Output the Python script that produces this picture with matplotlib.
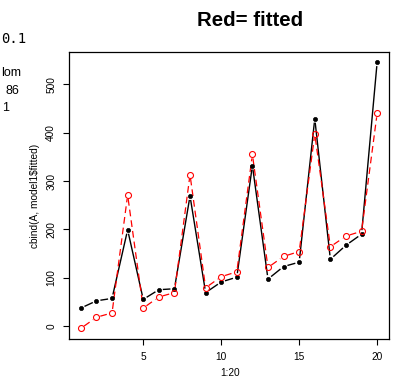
import numpy as np
import matplotlib
matplotlib.use("Agg")
import matplotlib.pyplot as plt

# ---- data ----
x = np.arange(1, 21)
actual = [37, 52, 57, 199, 55, 75, 77, 269, 69, 91, 101, 332, 97, 123, 132, 429, 138, 167, 190, 546]
fitted = [-5, 18, 27, 271, 37, 60, 69, 313, 79, 102, 112, 355, 121, 144, 154, 397, 164, 186, 196, 440]
xticks = [5, 10, 15, 20]
yticks = [0, 100, 200, 300, 400, 500]
title = "Red= fitted"
xlabel = "1:20"
ylabel = "cbind(A, model1$fitted)"

W, H = 394, 383
fig = plt.figure(figsize=(W / 100, H / 100), dpi=100)
fig.patch.set_facecolor("white")
ax = fig.add_axes([69 / W, 1 - 339 / H, 320 / W, (339 - 52) / H])

ax.set_xlim(0.24, 20.76)
ax.set_ylim(-27, 567)
ax.set_xticks(xticks)
ax.set_yticks(yticks)

font = "Liberation Sans"
ax.tick_params(axis="both", direction="out", length=4.2, width=0.8, color="black",
               labelsize=7.3, pad=5)
ax.tick_params(axis="x", pad=5.5)
for lab in ax.get_xticklabels() + ax.get_yticklabels():
    lab.set_fontfamily(font)
plt.setp(ax.get_yticklabels(), rotation=90, va="center")
for s in ax.spines.values():
    s.set_linewidth(0.9)
    s.set_color("black")


def gapped(ax, xs, ys, gap_px, **kw):
    pts = ax.transData.transform(np.column_stack([xs, ys]))
    inv = ax.transData.inverted()
    for p0, p1 in zip(pts[:-1], pts[1:]):
        d = p1 - p0
        L = np.hypot(*d)
        if L <= 2 * gap_px:
            continue
        u = d / L
        a = p0 + u * gap_px
        b = p1 - u * gap_px
        seg = inv.transform(np.array([a, b]))
        ax.plot(seg[:, 0], seg[:, 1], **kw)


gapped(ax, x, actual, 4.0, color="black", lw=1.0, solid_capstyle="butt")
gapped(ax, x, fitted, 4.0, color="red", lw=0.9, linestyle=(0, (5.4, 3.2)), dash_capstyle="butt")
ax.plot(x, actual, linestyle="none", marker="o", ms=3.0, mfc="black", mec="black", mew=0.5)
ax.plot(x, fitted, linestyle="none", marker="o", ms=4.3, mfc="none", mec="red", mew=0.8)

fig.text(250 / W, 1 - 20 / H, title, ha="center", va="center", fontsize=14.7,
         fontweight="bold", family=font)
fig.text(230 / W, 1 - 373 / H, xlabel, ha="center", va="center", fontsize=7.3, family=font)
fig.text(35 / W, 1 - 195.5 / H, ylabel, ha="center", va="center", fontsize=7.3,
         rotation=90, family=font)

# console fragments at left edge
fig.text(1 / W, 1 - 39 / H, "0.1", ha="left", va="center", fontsize=10,
         family="DejaVu Sans Mono")
fig.text(1 / W, 1 - 73 / H, "lom", ha="left", va="center", fontsize=9, family=font)
fig.text(19 / W, 1 - 91 / H, "86", ha="right", va="center", fontsize=9, family=font)
fig.text(9 / W, 1 - 108 / H, "1", ha="right", va="center", fontsize=9, family=font)

fig.savefig("out.png", dpi=100)
